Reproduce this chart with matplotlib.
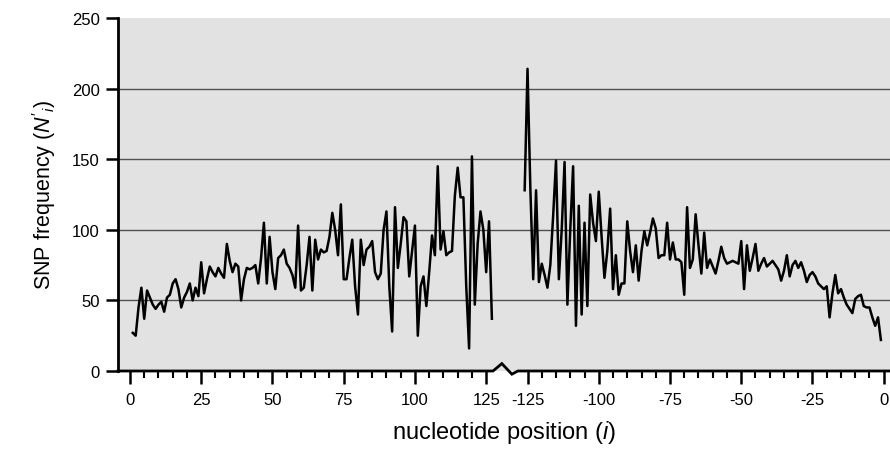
import numpy as np
import matplotlib
matplotlib.use("Agg")
import matplotlib.pyplot as plt
from matplotlib.transforms import blended_transform_factory

# ---- data ----
# left segment: nucleotide positions 1..127
left_pos = list(range(1, 128))
left_vals = [27, 25, 45, 59, 37, 57, 52, 47, 44, 47,
             49, 42, 52, 54, 62, 65, 58, 45, 52, 56,
             62, 50, 59, 53, 77, 55, 65, 74, 70, 67,
             73, 69, 66, 90, 78, 70, 76, 74, 50, 65,
             73, 72, 73, 75, 62, 80, 105, 62, 95, 70,
             58, 80, 82, 86, 76, 73, 68, 59, 103, 57,
             59, 75, 95, 57, 93, 79, 86, 84, 85, 95,
             112, 100, 82, 118, 65, 65, 80, 93, 60, 40,
             93, 75, 86, 88, 92, 70, 65, 69, 100, 113,
             60, 28, 116, 73, 90, 109, 106, 67, 85, 103,
             25, 60, 67, 46, 70, 96, 82, 145, 86, 99,
             82, 84, 85, 124, 144, 123, 123, 60, 16, 152,
             47, 90, 113, 100, 70, 106, 37]

# right segment: nucleotide positions -126..-1
right_pos = list(range(-126, 0))
right_vals = [128, 214, 129, 65, 128, 63, 76, 68, 59, 75,
              110, 149, 65, 100, 148, 47, 100, 145, 32, 117,
              40, 105, 46, 125, 105, 92, 127, 95, 66, 85,
              115, 58, 82, 54, 62, 62, 106, 85, 70, 89,
              64, 85, 99, 89, 98, 108, 101, 80, 82, 82,
              105, 79, 91, 79, 79, 77, 54, 116, 73, 79,
              111, 89, 69, 98, 73, 79, 74, 69, 78, 88,
              80, 76, 77, 78, 77, 76, 92, 58, 89, 71,
              80, 90, 71, 76, 80, 74, 76, 78, 75, 72,
              64, 71, 82, 67, 75, 78, 73, 77, 71, 63,
              68, 70, 67, 62, 60, 58, 60, 38, 55, 68,
              55, 58, 52, 47, 44, 41, 51, 53, 54, 46,
              45, 45, 38, 32, 38, 22]

left_ticks = [0, 25, 50, 75, 100, 125]
right_ticks = [-125, -100, -75, -50, -25, 0]
y_ticks = [0, 50, 100, 150, 200, 250]

OFF = 264.5  # axis offset of the right (negative) segment

# ---- style ----
plt.rcParams['font.family'] = ['Liberation Sans', 'DejaVu Sans']
plt.rcParams['mathtext.fontset'] = 'custom'
plt.rcParams['mathtext.rm'] = 'Liberation Sans'
plt.rcParams['mathtext.it'] = 'Liberation Sans:italic'

fig = plt.figure(figsize=(8.9, 4.56), dpi=100)
ax = fig.add_axes([118/890, 84/456, 772/890, 353/456])
ax.set_facecolor('#e2e2e2')

ax.set_xlim(-4.2, 266.7)
ax.set_ylim(0, 250)

for g in [50, 100, 150, 200]:
    ax.axhline(g, color='#505050', lw=1.0, zorder=1)

ax.plot(left_pos, left_vals, color='black', lw=1.8, zorder=3)
ax.plot([OFF + p for p in right_pos], right_vals, color='black', lw=1.8, zorder=3)

# spines
for s in ['top', 'right', 'bottom']:
    ax.spines[s].set_visible(False)
ax.spines['left'].set_linewidth(2)

# bottom axis line with break mark
tr = blended_transform_factory(ax.transData, ax.transAxes)
bx = [-4.2, 127.4, 130.5, 134.0, 136.1, 266.7]
by = [0, 0, 0.021, -0.009, 0, 0]
ax.plot(bx, by, color='black', lw=2, transform=tr, clip_on=False, zorder=5,
        solid_joinstyle='miter')

# ticks
major_x = left_ticks + [OFF + t for t in right_ticks]
major_lbl = [str(t) for t in left_ticks] + [str(t) for t in right_ticks]
minor_x = [m for m in range(0, 126, 5) if m % 25] + \
          [OFF + m for m in range(-125, 1, 5) if m % 25]
ax.set_xticks(major_x)
ax.set_xticklabels(major_lbl)
ax.set_xticks(minor_x, minor=True)
ax.tick_params(axis='x', which='major', direction='out', length=9, width=1.8,
               labelsize=12, pad=6)
ax.tick_params(axis='x', which='minor', direction='out', length=5, width=1.5)
ax.set_yticks(y_ticks)
ax.tick_params(axis='y', direction='out', length=9, width=1.8, labelsize=12, pad=4)

ax.set_xlabel('nucleotide position ($i$)', fontsize=17, labelpad=8)
ax.set_ylabel("SNP frequency ($N'_i$)", fontsize=15.5, labelpad=10)

fig.savefig('out.png', dpi=100, facecolor='white')
